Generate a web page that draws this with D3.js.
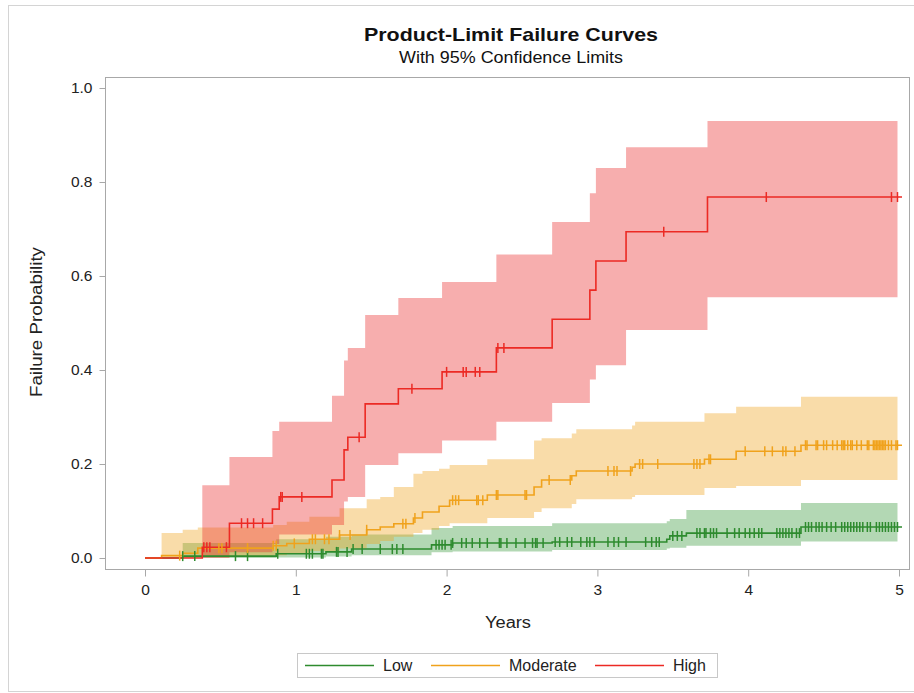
<!DOCTYPE html>
<html>
<head>
<meta charset="utf-8">
<script src="https://cdn.jsdelivr.net/npm/d3@7"></script>
<style>
  body { margin: 0; background: #fff; }
  svg { display: block; font-family: "Liberation Sans", Arial, sans-serif; }
</style>
</head>
<body>
<svg id="chart" width="914" height="693"></svg>
<script>
/* Product-limit failure curves */
const groups = ["Low", "Moderate", "High"]
const lineColors = ["#2e8b2e", "#f0a21c", "#ec2a24"]
const bandColors = ["#37993a", "#f0a41e", "#eb2a2a"]

// Low
const lowTime  = [0, 0.25, 0.87, 1.20, 1.37, 1.90, 2.04, 2.70, 3.46, 3.48, 3.59, 4.35]
const lowEst   = [0, 0.004, 0.009, 0.013, 0.019, 0.028, 0.032, 0.034, 0.040, 0.047, 0.053, 0.066]
const lowLower = [null, 0, 0.001, 0.003, 0.006, 0.012, 0.014, 0.017, 0.020, 0.022, 0.026, 0.035]
const lowUpper = [null, 0.032, 0.040, 0.045, 0.050, 0.064, 0.068, 0.074, 0.078, 0.083, 0.102, 0.117]
const lowCensor = [0.25, 0.33, 0.60, 0.68, 0.88, 1.07, 1.09, 1.11, 1.17, 1.18, 1.27, 1.28, 1.34, 1.38,
  1.44, 1.56, 1.64, 1.67, 1.71, 1.93, 1.95, 1.97, 1.99, 2.03, 2.04, 2.10, 2.13, 2.17, 2.22, 2.27,
  2.35, 2.36, 2.40, 2.46, 2.52, 2.57, 2.59, 2.60, 2.64, 2.72, 2.75, 2.80, 2.83, 2.89, 2.93, 2.95,
  2.98, 3.07, 3.11, 3.14, 3.19, 3.32, 3.36, 3.39, 3.41, 3.50, 3.53, 3.56, 3.66, 3.68, 3.71, 3.72,
  3.75, 3.77, 3.79, 3.86, 3.91, 3.94, 3.98, 4.01, 4.04, 4.07, 4.09, 4.19, 4.21, 4.23, 4.25, 4.27,
  4.29, 4.32, 4.34, 4.38, 4.40, 4.42, 4.45, 4.47, 4.49, 4.52, 4.55, 4.58, 4.62, 4.64, 4.66, 4.68,
  4.70, 4.72, 4.74, 4.76, 4.79, 4.81, 4.85, 4.87, 4.89, 4.91, 4.93, 4.95, 4.97, 4.99]

// Moderate
const modTime  = [0, 0.11, 0.25, 0.35, 0.85, 0.94, 1.09, 1.29, 1.47, 1.56, 1.65, 1.78, 1.84, 1.95,
  2.02, 2.27, 2.58, 2.63, 2.83, 2.86, 3.23, 3.25, 3.71, 3.92, 4.35]
const modEst   = [0, 0.005, 0.010, 0.021, 0.026, 0.031, 0.040, 0.049, 0.060, 0.066, 0.073, 0.085,
  0.098, 0.110, 0.123, 0.134, 0.151, 0.166, 0.175, 0.185, 0.193, 0.200, 0.210, 0.227, 0.240]
const modLower = [null, 0, 0, 0.003, 0.006, 0.010, 0.015, 0.020, 0.030, 0.036, 0.045, 0.053,
  0.060, 0.068, 0.074, 0.085, 0.098, 0.106, 0.115, 0.125, 0.130, 0.134, 0.149, 0.153, 0.166]
const modUpper = [null, 0.053, 0.060, 0.065, 0.070, 0.077, 0.088, 0.106, 0.125, 0.130, 0.151,
  0.179, 0.185, 0.190, 0.198, 0.210, 0.250, 0.255, 0.265, 0.274, 0.282, 0.290, 0.308, 0.322, 0.343]
const modCensor = [0.23, 0.49, 0.51, 0.68, 0.85, 0.87, 0.99, 1.11, 1.13, 1.19, 1.22, 1.29, 1.36,
  1.47, 1.71, 1.73, 1.79, 2.04, 2.06, 2.08, 2.20, 2.21, 2.24, 2.33, 2.34, 2.52, 2.53, 2.68, 2.82,
  3.07, 3.11, 3.13, 3.22, 3.28, 3.30, 3.40, 3.64, 3.66, 3.68, 3.74, 3.75, 3.98, 4.11, 4.16, 4.23,
  4.25, 4.31, 4.38, 4.39, 4.45, 4.46, 4.50, 4.52, 4.56, 4.59, 4.62, 4.63, 4.64, 4.66, 4.68, 4.69,
  4.72, 4.75, 4.79, 4.80, 4.83, 4.84, 4.85, 4.86, 4.87, 4.88, 4.89, 4.90, 4.91, 4.93, 4.95, 4.98, 4.99]

// High
const highTime  = [0, 0.38, 0.56, 0.845, 0.89, 1.24, 1.32, 1.345, 1.46, 1.68, 1.97, 2.33, 2.70,
  2.95, 2.99, 3.19, 3.73]
const highEst   = [0, 0.023, 0.074, 0.104, 0.130, 0.166, 0.230, 0.257, 0.328, 0.360, 0.396, 0.447,
  0.508, 0.570, 0.632, 0.694, 0.768]
const highLower = [null, 0, 0.012, 0.030, 0.050, 0.070, 0.120, 0.130, 0.198, 0.223, 0.250, 0.290,
  0.330, 0.380, 0.410, 0.485, 0.555]
const highUpper = [null, 0.155, 0.215, 0.270, 0.290, 0.345, 0.420, 0.447, 0.517, 0.553, 0.587,
  0.646, 0.715, 0.776, 0.830, 0.874, 0.930]
const highCensor = [0.39, 0.41, 0.43, 0.54, 0.64, 0.68, 0.72, 0.78, 0.90, 0.91, 1.04, 1.42, 1.77,
  2.00, 2.11, 2.13, 2.19, 2.22, 2.34, 2.38, 3.44, 4.12, 4.95, 4.99]

const bandEnd = 4.99, lineEnd = 5.02
const xTicks = [0, 1, 2, 3, 4, 5]
const yTicks = [0, 0.2, 0.4, 0.6, 0.8, 1.0]

const series = [
  {time: lowTime, est: lowEst, lower: lowLower, upper: lowUpper, censor: lowCensor},
  {time: modTime, est: modEst, lower: modLower, upper: modUpper, censor: modCensor},
  {time: highTime, est: highEst, lower: highLower, upper: highUpper, censor: highCensor}
]

const svg = d3.select("#chart")
const frame = {left: 105, top: 77, right: 909, bottom: 569}

const x = d3.scaleLinear().domain([0, 5]).range([145, 899])
const y = d3.scaleLinear().domain([0, 1]).range([558, 88])

// outer border
svg.append("rect")
  .attr("x", 8.5).attr("y", 5.5).attr("width", 906).attr("height", 686)
  .attr("fill", "none").attr("stroke", "#d4d4d4")

svg.append("text")
  .attr("x", 511).attr("y", 41)
  .attr("text-anchor", "middle")
  .attr("font-size", 19).attr("font-weight", "bold").attr("fill", "#111")
  .attr("textLength", 294).attr("lengthAdjust", "spacingAndGlyphs")
  .text("Product-Limit Failure Curves")

svg.append("text")
  .attr("x", 511).attr("y", 63)
  .attr("text-anchor", "middle")
  .attr("font-size", 16).attr("fill", "#111")
  .attr("textLength", 224).attr("lengthAdjust", "spacingAndGlyphs")
  .text("With 95% Confidence Limits")

const plot = svg.append("g")

// confidence bands
const area = d3.area()
  .defined(d => d.lo != null)
  .x(d => x(d.t))
  .y0(d => y(d.lo))
  .y1(d => y(d.hi))
  .curve(d3.curveStepAfter)

series.forEach((s, k) => {
  const pts = s.time.map((t, i) => ({t: t, lo: s.lower[i], hi: s.upper[i]}))
  const last = pts[pts.length - 1]
  pts.push({t: bandEnd, lo: last.lo, hi: last.hi})
  plot.append("path")
    .datum(pts)
    .attr("d", area)
    .attr("fill", bandColors[k])
    .attr("fill-opacity", 0.38)
})

// step curves
const line = d3.line()
  .x(d => x(d.t))
  .y(d => y(d.p))
  .curve(d3.curveStepAfter)

series.forEach((s, k) => {
  const pts = s.time.map((t, i) => ({t: t, p: s.est[i]}))
  pts.push({t: lineEnd, p: s.est[s.est.length - 1]})
  plot.append("path")
    .datum(pts)
    .attr("d", line)
    .attr("fill", "none")
    .attr("stroke", lineColors[k])
    .attr("stroke-width", 1.6)
})

// censor marks
series.forEach((s, k) => {
  const at = t => s.est[d3.bisectRight(s.time, t) - 1]
  plot.append("g").selectAll("line")
    .data(s.censor)
    .enter()
    .append("line")
    .attr("x1", d => x(d)).attr("x2", d => x(d))
    .attr("y1", d => y(at(d)) - 5)
    .attr("y2", d => y(at(d)) + 5)
    .attr("stroke", lineColors[k])
    .attr("stroke-width", 1.5)
})

// frame
svg.append("rect")
  .attr("x", frame.left + 0.5).attr("y", frame.top + 0.5)
  .attr("width", frame.right - frame.left).attr("height", frame.bottom - frame.top)
  .attr("fill", "none").attr("stroke", "#a8a8a8")

const xAxis = svg.append("g")
  .attr("transform", "translate(0," + (frame.bottom + 0.5) + ")")
  .call(d3.axisBottom(x).tickValues(xTicks).tickSize(7).tickPadding(7).tickFormat(d3.format("d")))
const yAxis = svg.append("g")
  .attr("transform", "translate(" + (frame.left + 0.5) + ",0)")
  .call(d3.axisLeft(y).tickValues(yTicks).tickSize(6).tickPadding(7).tickFormat(d3.format(".1f")))

;[xAxis, yAxis].forEach(a => {
  a.select(".domain").remove()
  a.selectAll(".tick line").attr("stroke", "#a8a8a8")
  a.selectAll(".tick text").attr("font-size", 15.5).attr("fill", "#222")
    .attr("font-family", "'Liberation Sans', Arial, sans-serif")
})

svg.append("text")
  .attr("x", 508).attr("y", 628)
  .attr("text-anchor", "middle")
  .attr("font-size", 16).attr("fill", "#222")
  .attr("textLength", 46).attr("lengthAdjust", "spacingAndGlyphs")
  .text("Years")

svg.append("text")
  .attr("transform", "translate(42,322) rotate(-90)")
  .attr("text-anchor", "middle")
  .attr("font-size", 16).attr("fill", "#222")
  .attr("textLength", 150).attr("lengthAdjust", "spacingAndGlyphs")
  .text("Failure Probability")

// legend
const legend = svg.append("g")
legend.append("rect")
  .attr("x", 297.5).attr("y", 653.5).attr("width", 420).attr("height", 24)
  .attr("fill", "#fff").attr("stroke", "#c8c8c8")

const legendX = [305, 431, 595]
groups.forEach((g, k) => {
  legend.append("line")
    .attr("x1", legendX[k]).attr("x2", legendX[k] + 69)
    .attr("y1", 665.5).attr("y2", 665.5)
    .attr("stroke", lineColors[k]).attr("stroke-width", 1.6)
  legend.append("text")
    .attr("x", legendX[k] + 78).attr("y", 671)
    .attr("font-size", 16).attr("fill", "#222")
    .text(g)
})
</script>
</body>
</html>
